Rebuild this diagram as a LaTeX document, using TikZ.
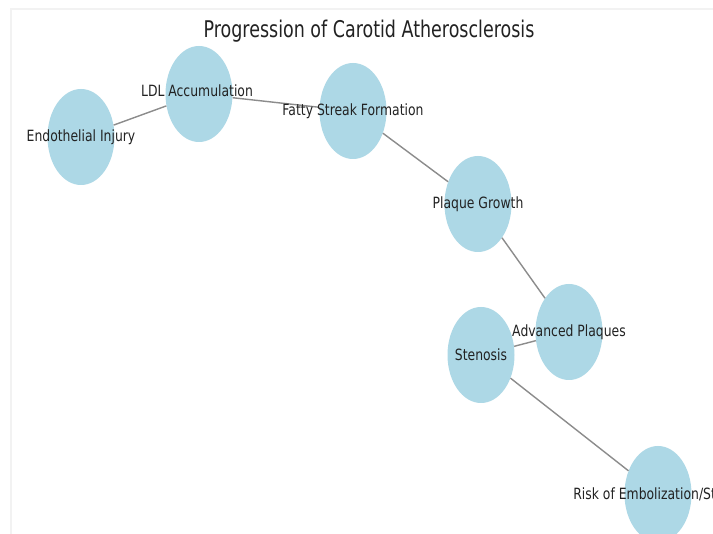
\documentclass[tikz,border=0pt]{standalone}
\usepackage{fontspec}
\setmainfont{DejaVu Sans}
\usetikzlibrary{shapes.geometric}
\definecolor{blobblue}{RGB}{173,216,230}
\definecolor{edgegray}{RGB}{140,140,140}
\definecolor{inkgray}{RGB}{34,34,34}

\begin{document}
\begin{tikzpicture}[x = 1pt, y = -1pt,
  blob/.style = {ellipse, fill = blobblue, inner sep = 0pt,
                 minimum width = 67pt, minimum height = 96pt},
  link/.style = {draw = edgegray, line width = 1.4pt},
  tag/.style = {text = inkgray, xscale = 0.8, inner sep = 0pt,
                font = \fontsize{15.5}{18}\selectfont},
  heading/.style = {text = inkgray, xscale = 0.76, inner sep = 0pt,
                font = \fontsize{23}{26}\selectfont}]
\useasboundingbox (0, 0) rectangle (713, 534);
\fill[white] (0, 0) rectangle (713, 534);
\draw[gray!10, line width = 2pt] (11, 534) -- (11, 9) -- (713, 9);
\clip (0, 0) rectangle (713, 534);
\node[heading] (title) at (369, 31) {Progression of Carotid Atherosclerosis};
% nodes
\node[blob] (endo) at (81, 137) {};
\node[blob] (ldl) at (199, 94) {};
\node[blob] (fatty) at (353, 111) {};
\node[blob] (growth) at (478, 204) {};
\node[blob] (advanced) at (569, 332) {};
\node[blob] (stenosis) at (481, 355) {};
\node[blob] (risk) at (658, 494) {};
% edges
\draw[link] (endo) -- (ldl);
\draw[link] (ldl) -- (fatty);
\draw[link] (fatty) -- (growth);
\draw[link] (growth) -- (advanced);
\draw[link] (advanced) -- (stenosis);
\draw[link] (stenosis) -- (risk);
% labels
\node[tag] (endo-t) at (endo) {Endothelial Injury};
\node[tag] (ldl-t) at (197, 91) {LDL Accumulation};
\node[tag] (fatty-t) at (fatty) {Fatty Streak Formation};
\node[tag] (growth-t) at (growth) {Plaque Growth};
\node[tag] (advanced-t) at (advanced) {Advanced Plaques};
\node[tag] (stenosis-t) at (stenosis) {Stenosis};
\node[tag] (risk-t) at (risk) {Risk of Embolization/Stroke};
\end{tikzpicture}
\end{document}
